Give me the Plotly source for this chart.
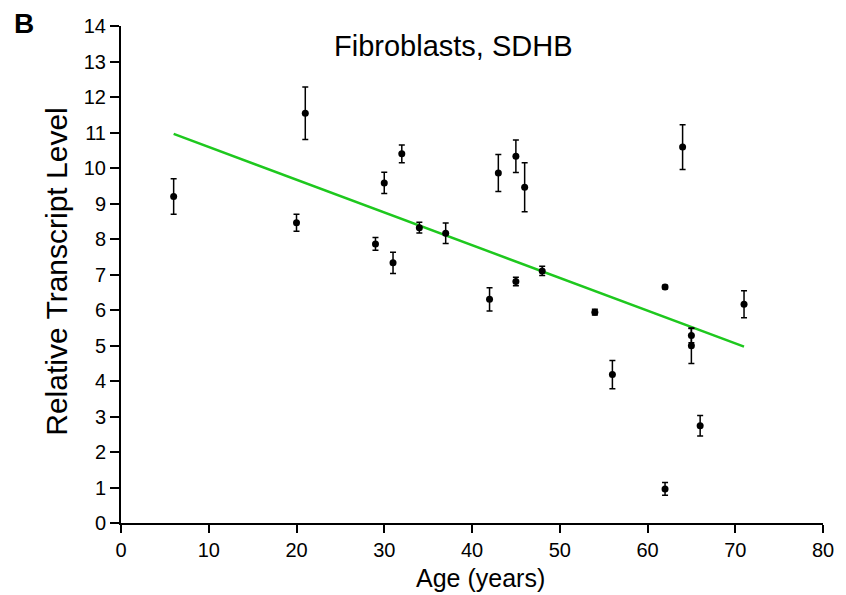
import plotly.graph_objects as go

age = [6, 20, 21, 29, 30, 31, 32, 34, 37, 42, 43, 45, 45, 46, 48, 54, 56, 62, 62, 64, 65, 65, 66, 71]
level = [9.20, 8.46, 11.54, 7.86, 9.58, 7.33, 10.40, 8.32, 8.16, 6.30, 9.86, 6.80, 10.33, 9.46,
         7.10, 5.94, 4.18, 6.65, 0.96, 10.59, 5.28, 4.99, 2.74, 6.16]
err = [0.50, 0.24, 0.74, 0.18, 0.30, 0.30, 0.25, 0.15, 0.29, 0.33, 0.52, 0.12, 0.46, 0.69,
       0.13, 0.08, 0.40, 0.05, 0.18, 0.63, 0.20, 0.50, 0.29, 0.38]
fit_x = [6, 71]
fit_y = [10.96, 4.97]
x_ticks = list(range(0, 81, 10))
y_ticks = list(range(0, 15))

FONT = "Liberation Sans, Arial, sans-serif"
W, H = 846, 595
L, R, T, B = 121, 15, 26, 72
PW, PH = W - L - R, H - T - B


def px(xp):
    return (xp - L) / PW


def py(yp):
    return (H - B - yp) / PH


fig = go.Figure()
fig.add_trace(go.Scatter(x=fit_x, y=fit_y, mode="lines",
                         line=dict(color="#1ec81e", width=2.5), showlegend=False))
fig.add_trace(go.Scatter(
    x=age, y=level, mode="markers",
    marker=dict(color="black", size=7),
    error_y=dict(type="data", array=err, visible=True, color="black", thickness=1.5, width=3),
    showlegend=False, cliponaxis=False))

fig.update_layout(
    width=W, height=H,
    margin=dict(l=L, r=R, t=T, b=B),
    plot_bgcolor="white", paper_bgcolor="white",
    font=dict(family=FONT, color="black"),
    xaxis=dict(range=[0, 80], tickvals=x_ticks, showline=True, linecolor="black", linewidth=2,
               ticks="outside", ticklen=8, tickwidth=2, tickcolor="black", showgrid=False,
               zeroline=False, tickfont=dict(size=20)),
    yaxis=dict(range=[0, 14], tickvals=y_ticks, showline=True, linecolor="black", linewidth=2,
               ticks="outside", ticklen=9, tickwidth=2, tickcolor="black", showgrid=False,
               zeroline=False, tickfont=dict(size=20)),
    annotations=[
        dict(text="Fibroblasts, SDHB", x=px(457.5), y=py(46), xref="paper", yref="paper",
             showarrow=False, font=dict(size=29), xanchor="center", yanchor="middle"),
        dict(text="<b>B</b>", x=px(23), y=py(23), xref="paper", yref="paper", showarrow=False,
             font=dict(size=28), xanchor="center", yanchor="middle"),
        dict(text="Age (years)", x=px(485), y=py(578), xref="paper", yref="paper",
             showarrow=False, font=dict(size=25), xanchor="center", yanchor="middle"),
        dict(text="Relative Transcript Level", x=px(55), y=py(272), xref="paper", yref="paper",
             showarrow=False, font=dict(size=30), textangle=-90,
             xanchor="center", yanchor="middle"),
    ],
)
fig.write_html("out.html")
